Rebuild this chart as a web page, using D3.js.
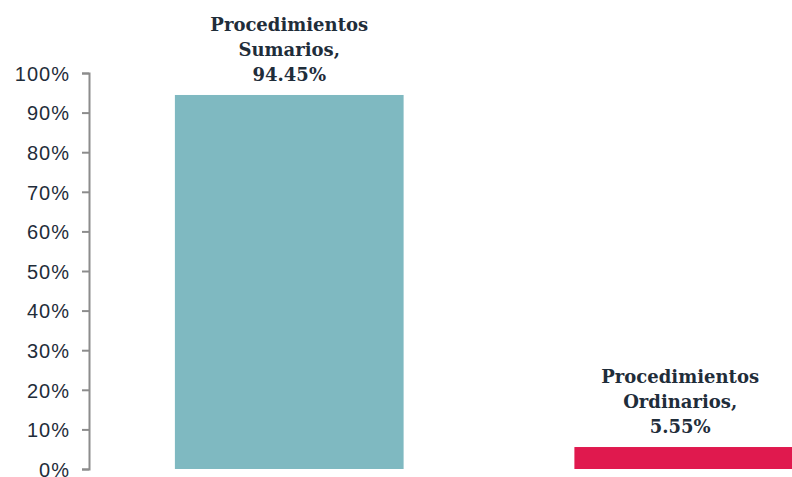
<!DOCTYPE html>
<html>
<head>
<meta charset="utf-8">
<script src="https://cdn.jsdelivr.net/npm/d3@7"></script>
<style>
  body { margin: 0; background: #fff; }
  svg { display: block; }
</style>
</head>
<body>
<svg id="chart" width="792" height="477"></svg>
<script>
// chart data
const categories = ["Procedimientos Sumarios", "Procedimientos Ordinarios"];
const values = [94.45, 5.55];
const labelLines = [["Procedimientos", "Sumarios,", "94.45%"], ["Procedimientos", "Ordinarios,", "5.55%"]];
const colors = ["#7fb9c1", "#e0194e"];
const tickValues = [0, 10, 20, 30, 40, 50, 60, 70, 80, 90, 100];

const svg = d3.select("#chart");

const y = d3.scaleLinear()
    .domain([0, 100])
    .range([469, 73]);

const x = d3.scaleBand()
    .domain(categories)
    .range([89, 889])
    .paddingInner(0.4275)
    .paddingOuter(0.215);

// y axis
const yAxis = d3.axisLeft(y)
    .tickValues(tickValues)
    .tickFormat(d => d + "%")
    .tickSize(7)
    .tickPadding(12);

const ag = svg.append("g")
    .attr("transform", "translate(89,0)")
    .call(yAxis);

ag.select(".domain")
    .attr("stroke", "#8c8c8c")
    .attr("stroke-width", 2);
ag.selectAll(".tick line")
    .attr("stroke", "#8c8c8c")
    .attr("stroke-width", 2);
ag.selectAll(".tick text")
    .attr("fill", "#1f2d3a")
    .attr("font-family", "Liberation Sans, Arial, sans-serif")
    .attr("font-size", "20px")
    .attr("letter-spacing", "1px")
    .attr("dy", "0.36em");

// bars
svg.selectAll(".bar")
    .data(categories)
    .enter()
    .append("rect")
    .attr("class", "bar")
    .attr("x", d => x(d))
    .attr("y", (d, i) => y(values[i]))
    .attr("width", x.bandwidth())
    .attr("height", (d, i) => y(0) - y(values[i]))
    .attr("fill", (d, i) => colors[i]);

// data labels, centred on the visible part of each bar
const labels = svg.selectAll(".lbl")
    .data(categories)
    .enter()
    .append("text")
    .attr("class", "lbl")
    .attr("text-anchor", "middle")
    .attr("font-family", "Georgia, 'DejaVu Serif', serif")
    .attr("font-weight", "bold")
    .attr("font-size", "18px")
    .attr("fill", "#1f2d3a")
    .attr("transform", (d, i) => {
        const left = x(d);
        const right = Math.min(x(d) + x.bandwidth(), 786);
        return `translate(${(left + right) / 2}, ${y(values[i]) - 14})`;
    });

labels.each(function(d, i) {
    const t = d3.select(this);
    const lines = labelLines[i];
    lines.forEach((line, j) => {
        t.append("tspan")
            .attr("x", 0)
            .attr("y", (j - lines.length + 1) * 25)
            .text(line);
    });
});
</script>
</body>
</html>
